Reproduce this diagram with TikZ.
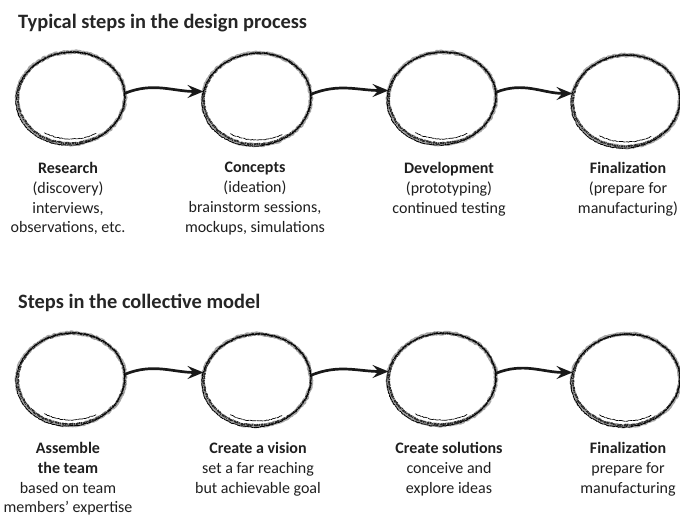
\documentclass[tikz,border=0pt]{standalone}
\usepackage{fontspec}
\setmainfont{Carlito}
\usetikzlibrary{shapes.geometric,arrows.meta,decorations.pathmorphing,calc}

\begin{document}
\begin{tikzpicture}[x=1pt,y=-1pt,
  stage/.style={ellipse,minimum width=108pt,minimum height=92pt,inner sep=0pt},
  chalkbase/.style={draw=black!35,line width=3.8pt,line join=round,line cap=round,decorate,
    decoration={random steps,segment length=1.4pt,amplitude=0.8pt}},
  chalkgrain/.style={draw=black!85,line width=1.9pt,line join=round,
    dash pattern=on 1.6pt off 0.8pt on 0.8pt off 1.1pt on 2.4pt off 0.6pt,decorate,
    decoration={random steps,segment length=1.3pt,amplitude=0.6pt}},
  chalkline/.style={draw=black,line width=0.9pt,line cap=round,line join=round,
    dash pattern=on 3pt off 1.1pt on 1.5pt off 0.8pt,decorate,
    decoration={random steps,segment length=1.5pt,amplitude=0.4pt}},
  flow/.style={draw=black!90,line width=2.7pt,
    -{Stealth[length=16pt,width=13pt,inset=6pt]}},
  heading/.style={anchor=west,inner sep=0pt,text=black!85,
    font=\fontsize{20.4}{24}\selectfont\bfseries},
  caption/.style={anchor=north,inner sep=0pt,align=center,text=black!88,
    font=\fontsize{16}{19.8}\selectfont},
]
\pgfmathsetseed{4711}
\useasboundingbox[fill=white] (0,0) rectangle (680,516);

% chalk-drawn ring around a stage node
\newcommand\chalkring[1]{%
  \draw[chalkbase] (#1.center) ellipse[x radius=54pt,y radius=46pt,rotate=4];
  \draw[chalkgrain] ([shift={(0.4pt,0.3pt)}]#1.center) ellipse[x radius=53.5pt,y radius=45.5pt,rotate=4];
  \draw[chalkline] ([shift={(-0.6pt,-0.6pt)}]#1.center)
    ellipse[x radius=54.5pt,y radius=46.3pt,rotate=8];
  \draw[chalkline,line width=0.7pt,dash pattern=on 6pt off 1pt]
    ([shift={(238:50pt and 41pt)}]#1.center)
    arc[start angle=238,end angle=300,x radius=50pt,y radius=41pt];
}

% ---- first process ----
\node[heading] (t1) at (18,23) {Typical steps in the design process};

\node[stage] (a1) at (71,98) {};
\node[stage] (a2) at (257,99) {};
\node[stage] (a3) at (442,98) {};
\node[stage] (a4) at (626,101) {};
\foreach \n in {a1,a2,a3,a4} {\chalkring{\n}}

\draw[flow] (a1.5) to[out=22,in=180] (a2.172);
\draw[flow] (a2.5) to[out=22,in=180] (a3.172);
\draw[flow] (a3.6) to[out=22,in=180] (a4.172);

\node[caption] (l1) at (68,162) {\textbf{Research}\\(discovery)\\interviews,\\observations, etc.};
\node[caption] (l2) at (255,162) {\textbf{Concepts}\\(ideation)\\brainstorm sessions,\\mockups, simulations};
\node[caption] (l3) at (449,162) {\textbf{Development}\\(prototyping)\\continued testing};
\node[caption] (l4) at (628,162) {\textbf{Finalization}\\(prepare for\\manufacturing)};

% ---- second process ----
\node[heading] (t2) at (18,303) {Steps in the collective model};

\node[stage] (b1) at (71,379) {};
\node[stage] (b2) at (257,380) {};
\node[stage] (b3) at (442,379) {};
\node[stage] (b4) at (626,380) {};
\foreach \n in {b1,b2,b3,b4} {\chalkring{\n}}

\draw[flow] (b1.5) to[out=22,in=180] (b2.172);
\draw[flow] (b2.5) to[out=22,in=180] (b3.172);
\draw[flow] (b3.6) to[out=22,in=180] (b4.172);

\node[caption] (m1) at (68,442) {\textbf{Assemble}\\\textbf{the team}\\based on team\\members’ expertise};
\node[caption] (m2) at (258,442) {\textbf{Create a vision}\\set a far reaching\\but achievable goal};
\node[caption] (m3) at (449,442) {\textbf{Create solutions}\\conceive and\\explore ideas};
\node[caption] (m4) at (628,442) {\textbf{Finalization}\\prepare for\\manufacturing};
\end{tikzpicture}
\end{document}
